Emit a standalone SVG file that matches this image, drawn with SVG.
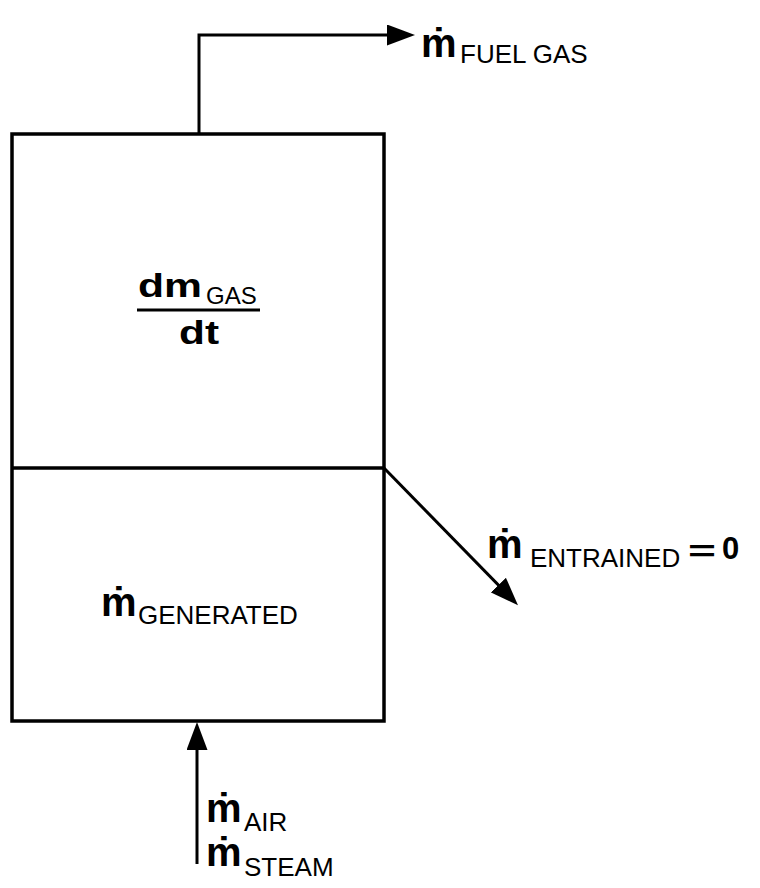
<svg xmlns="http://www.w3.org/2000/svg" width="760" height="888" viewBox="0 0 760 888">
  <style>
    .line { fill: none; stroke: #000; stroke-width: 3.5; }
    .conn { fill: none; stroke: #000; stroke-width: 3; }
    .m { font-family: "Liberation Sans", Arial, sans-serif; font-weight: bold; font-size: 40px; fill: #000; }
    .sub { font-family: "Liberation Sans", Arial, sans-serif; font-size: 26px; fill: #000; }
    .big { font-family: "Liberation Sans", Arial, sans-serif; font-weight: bold; font-size: 33px; fill: #000; }
    .zero { font-family: "Liberation Sans", Arial, sans-serif; font-weight: bold; font-size: 31px; fill: #000; }
  </style>
  <defs>
    <marker id="arrow" markerUnits="userSpaceOnUse" markerWidth="30" markerHeight="22" refX="18" refY="10.5" orient="auto">
      <path d="M0,0 L28,10.5 L0,21 z" fill="#000"/>
    </marker>
  </defs>
  <rect width="760" height="888" fill="#fff"/>

  <g id="vessel">
    <rect class="line" x="12" y="134" width="372" height="587"/>
    <line class="line" x1="12" y1="468" x2="384" y2="468"/>
  </g>

  <g id="gas-space">
    <text class="big" x="138" y="297" textLength="64" lengthAdjust="spacingAndGlyphs">dm</text>
    <text class="sub" x="206" y="304" style="font-size:24px">GAS</text>
    <line x1="137" y1="310" x2="260" y2="310" stroke="#000" stroke-width="3"/>
    <text class="big" x="179" y="344" textLength="40" lengthAdjust="spacingAndGlyphs">dt</text>
  </g>

  <g id="bed">
    <text class="m" x="101" y="616">ṁ</text>
    <text class="sub" x="138" y="624">GENERATED</text>
  </g>

  <g id="connectors">
    <polyline class="conn" points="199,134 199,35 405,35" marker-end="url(#arrow)"/>
    <line class="conn" x1="384" y1="468" x2="511" y2="598" marker-end="url(#arrow)"/>
    <line class="conn" x1="197" y1="864" x2="197" y2="732" marker-end="url(#arrow)"/>
  </g>

  <g id="fuel-gas">
    <text class="m" x="421" y="57">ṁ</text>
    <text class="sub" x="460" y="63">FUEL GAS</text>
  </g>

  <g id="entrained">
    <text class="m" x="487" y="558">ṁ</text>
    <text class="sub" x="530" y="567">ENTRAINED</text>
    <text class="big" x="688" y="561" style="font-size:30px" textLength="28" lengthAdjust="spacingAndGlyphs">=</text>
    <text class="zero" x="722" y="559">0</text>
  </g>

  <g id="feed">
    <text class="m" x="206" y="822">ṁ</text>
    <text class="sub" x="244" y="831">AIR</text>
    <text class="m" x="206" y="866">ṁ</text>
    <text class="sub" x="244" y="876">STEAM</text>
  </g>
</svg>
